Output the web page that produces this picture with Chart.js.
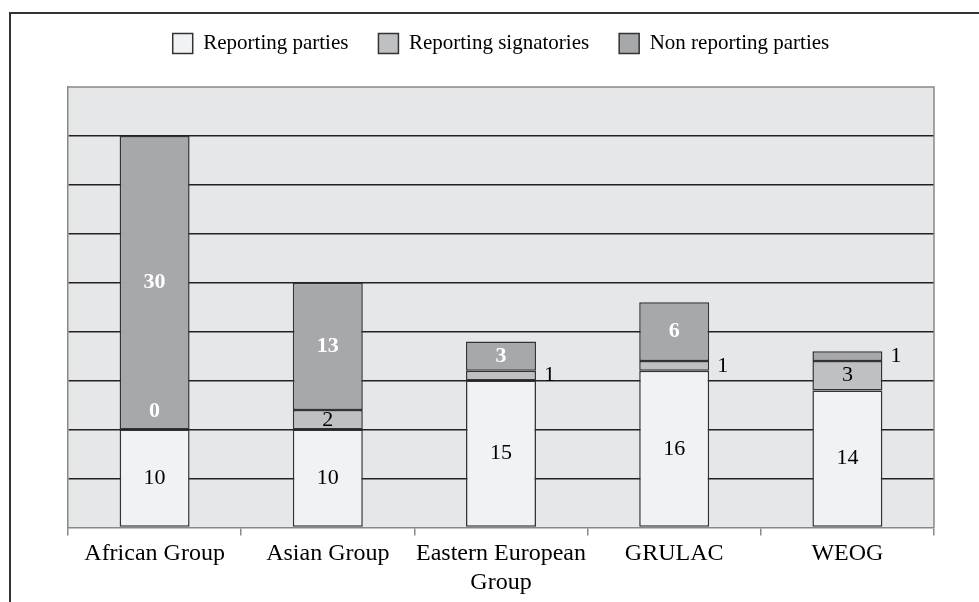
<!DOCTYPE html>
<html>
<head>
<meta charset="utf-8">
<script src="https://cdn.jsdelivr.net/npm/chart.js@4.4.1/dist/chart.umd.min.js"></script>
<style>
    html, body { margin: 0; padding: 0; background: #fff; }
    #wrap { width: 979px; height: 602px; }
</style>
</head>
<body>
<div id="wrap"><canvas id="myChart"></canvas></div>
<script>
const groups = ["African Group", "Asian Group", ["Eastern European", "Group"], "GRULAC", "WEOG"];
const reportingParties = [10, 10, 15, 16, 14];
const reportingSignatories = [0, 2, 1, 1, 3];
const nonReportingParties = [30, 13, 3, 6, 1];

const serif = "'Liberation Serif', 'Times New Roman', serif";

Chart.defaults.font.family = serif;
Chart.defaults.color = "#000";

// outer frame + plot background
const framePlugin = {
    id: "frame",
    beforeDraw(chart) {
        const c = chart.ctx;
        const a = chart.chartArea;
        c.save();
        c.fillStyle = "#e6e7e8";
        c.fillRect(a.left, a.top, a.right - a.left, a.bottom - a.top);
        c.strokeStyle = "#333";
        c.lineWidth = 2;
        c.beginPath();
        c.moveTo(10, 602);
        c.lineTo(10, 13);
        c.lineTo(979, 13);
        c.stroke();
        c.restore();
    },
    afterDatasetsDraw(chart) {
        const c = chart.ctx;
        const a = chart.chartArea;
        c.save();
        c.strokeStyle = "#888";
        c.lineWidth = 1.5;
        c.beginPath();
        c.moveTo(a.left, a.top);
        c.lineTo(a.right, a.top);
        c.lineTo(a.right, a.bottom);
        c.stroke();
        c.restore();
    }
};

// value labels on the segments
const valueLabels = {
    id: "valueLabels",
    afterDatasetsDraw(chart) {
        const c = chart.ctx;
        c.save();
        c.textBaseline = "middle";
        chart.data.datasets.forEach((ds, i) => {
            const meta = chart.getDatasetMeta(i);
            meta.data.forEach((bar, j) => {
                const v = ds.data[j];
                const h = Math.abs(bar.base - bar.y);
                let x = bar.x, y = (bar.y + bar.base) / 2;
                let bold = false, color = "#000", align = "center";
                if (v === 0) {
                    y = bar.base - 18;
                    bold = true;
                    color = "#fff";
                } else if (h < 14) {
                    x = bar.x + bar.width / 2 + 8;
                    align = "left";
                } else if (i === 2) {
                    bold = true;
                    color = "#fff";
                }
                c.font = (bold ? "bold " : "") + "22px " + serif;
                c.fillStyle = color;
                c.textAlign = align;
                c.fillText(String(v), x, y);
            });
        });
        c.restore();
    }
};

const legendGap = {
    id: "legendGap",
    beforeInit(chart) {
        const fit = chart.legend.fit;
        chart.legend.fit = function () {
            fit.bind(chart.legend)();
            this.height += 23;
        };
    }
};

const ctx = document.getElementById("myChart");

new Chart(ctx, {
    type: "bar",
    data: {
        labels: groups,
        datasets: [
            {
                label: "Reporting parties",
                data: reportingParties,
                backgroundColor: "#f1f2f3",
            },
            {
                label: "Reporting signatories",
                data: reportingSignatories,
                backgroundColor: "#bfc0c2",
            },
            {
                label: "Non reporting parties",
                data: nonReportingParties,
                backgroundColor: "#a7a8ab",
            },
        ],
    },
    options: {
        responsive: true,
        maintainAspectRatio: false,
        animation: false,
        datasets: {
            bar: {
                borderColor: "#333",
                borderWidth: 1.5,
                borderSkipped: false,
                categoryPercentage: 1,
                barPercentage: 0.404,
            },
        },
        layout: {
            padding: { left: 68, right: 45, top: 3, bottom: 1 },
        },
        plugins: {
            legend: {
                position: "top",
                labels: {
                    boxWidth: 20,
                    boxHeight: 20,
                    padding: 30,
                    color: "#000",
                    font: { size: 21, family: serif },
                },
            },
            tooltip: { enabled: false },
        },
        scales: {
            x: {
                stacked: true,
                offset: true,
                grid: {
                    offset: true,
                    drawOnChartArea: false,
                    drawTicks: true,
                    tickLength: 8,
                    color: "#888",
                    lineWidth: 1.5,
                },
                border: { color: "#888", width: 1.5 },
                ticks: {
                    color: "#000",
                    font: { size: 24, family: serif },
                    padding: 4,
                    maxRotation: 0,
                },
            },
            y: {
                stacked: true,
                min: 0,
                max: 45,
                ticks: { display: false, stepSize: 5 },
                grid: {
                    drawTicks: false,
                    color: (c) => (c.tick && (c.tick.value === 0 || c.tick.value === 45) ? "rgba(0,0,0,0)" : "#222"),
                    lineWidth: 1.5,
                },
                border: { color: "#888", width: 1.5 },
            },
        },
    },
    plugins: [framePlugin, valueLabels, legendGap],
});
</script>
</body>
</html>
